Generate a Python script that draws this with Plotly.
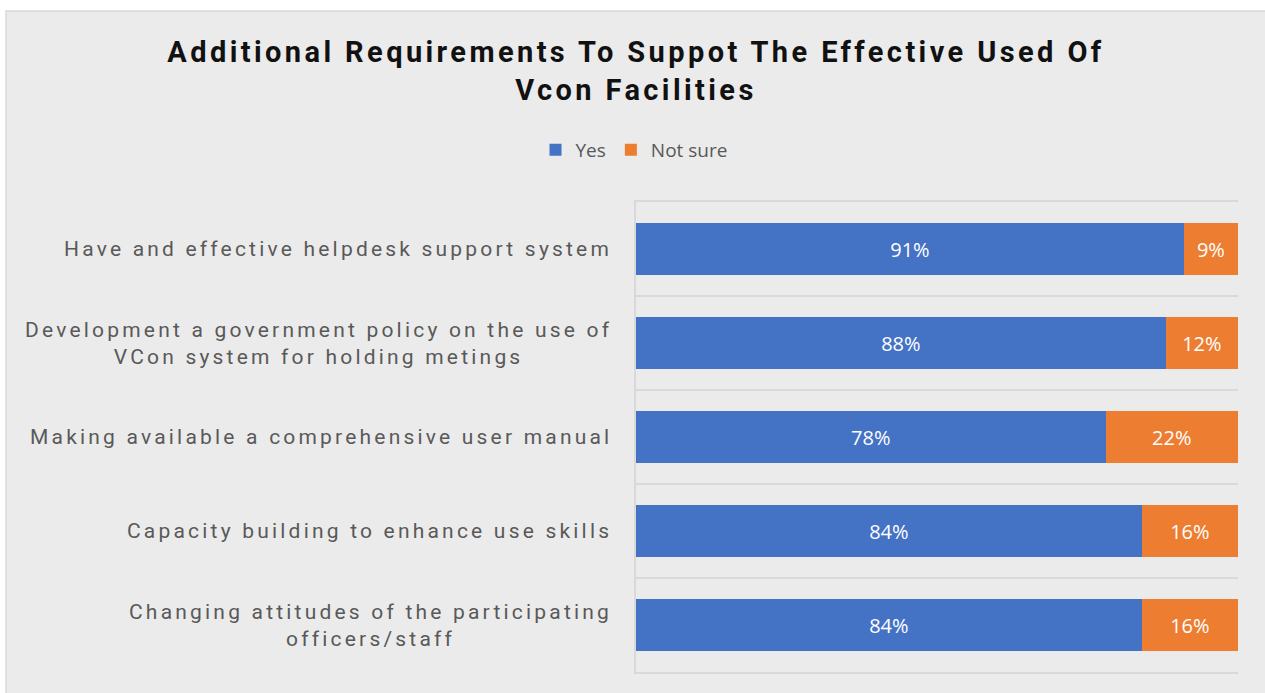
import plotly.graph_objects as go

categories = [
    "Have and effective helpdesk support system",
    "Development a government policy on the use of<br>VCon system for holding metings",
    "Making available a comprehensive user manual",
    "Capacity building to enhance use skills",
    "Changing attitudes of the participating<br>officers/staff",
]
yes_vals = [91, 88, 78, 84, 84]
notsure_vals = [9, 12, 22, 16, 16]
series_names = ["Yes", "Not sure"]
title_text = "Additional Requirements To Suppot The Effective Used Of<br>Vcon Facilities"

W, H = 1265, 693
L, R, T, B = 636, 27, 202, 21
pw, ph = W - L - R, H - T - B

def px_x(p):
    return (p - L) / pw

def px_y(p):
    return (H - B - p) / ph

def spaced(s, sp):
    return "<br>".join(f'<span style="letter-spacing:{sp}px">{line}</span>' for line in s.split("<br>"))

fig = go.Figure()
fig.add_trace(go.Bar(
    y=categories, x=yes_vals, orientation="h", name=series_names[0],
    marker=dict(color="#4472C4", line=dict(width=0)),
    texttemplate="%{x}%", textposition="inside", insidetextanchor="middle",
    textfont=dict(color="white", size=20, family="Open Sans"), textangle=0,
))
fig.add_trace(go.Bar(
    y=categories, x=notsure_vals, orientation="h", name=series_names[1],
    marker=dict(color="#ED7D31", line=dict(width=0)),
    texttemplate="%{x}%", textposition="inside", insidetextanchor="middle",
    textfont=dict(color="white", size=20, family="Open Sans"), textangle=0,
))

annotations = []
for c in categories:
    annotations.append(dict(
        x=px_x(614), xref="paper", y=c, yref="y", xanchor="right", yanchor="middle",
        align="center", showarrow=False, text=spaced(c, 3.2),
        font=dict(family="Roboto", size=21, color="#595959"),
    ))

fig.update_layout(
    width=W, height=H,
    margin=dict(l=L, r=R, t=T, b=B),
    paper_bgcolor="white",
    plot_bgcolor="rgba(0,0,0,0)",
    barmode="stack",
    bargap=0.447,
    showlegend=True,
    legend=dict(
        orientation="h", x=px_x(634), xanchor="center", y=px_y(150), yanchor="middle",
        font=dict(family="Open Sans", size=19, color="#595959"),
        bgcolor="rgba(0,0,0,0)", traceorder="normal",
    ),
    title=dict(
        text=spaced(title_text, 3.4),
        x=px_x(636), xref="paper", xanchor="center",
        y=1 - 62 / H, yref="container", yanchor="top",
        font=dict(family="Roboto", size=29, color="#111111", weight="bold"),
    ),
    xaxis=dict(range=[0, 100], visible=True, fixedrange=True, showticklabels=False,
               showgrid=False, zeroline=False, ticks="", showline=True, mirror=True,
               linecolor="#d9d9d9", linewidth=1.5),
    yaxis=dict(
        type="category", categoryorder="array", categoryarray=categories,
        autorange="reversed", tickson="boundaries", showgrid=True,
        gridcolor="#d9d9d9", gridwidth=1.5, showticklabels=False, ticks="",
        showline=True, linecolor="#d9d9d9", linewidth=1.5, zeroline=False,
    ),
    annotations=annotations,
    shapes=[dict(
        type="rect", xref="paper", yref="paper", layer="below",
        x0=px_x(6), x1=px_x(1266), y0=px_y(694), y1=px_y(11),
        fillcolor="#ebebeb", line=dict(color="#d9d9d9", width=1.5),
    )],
)

fig.write_html("out.html")
